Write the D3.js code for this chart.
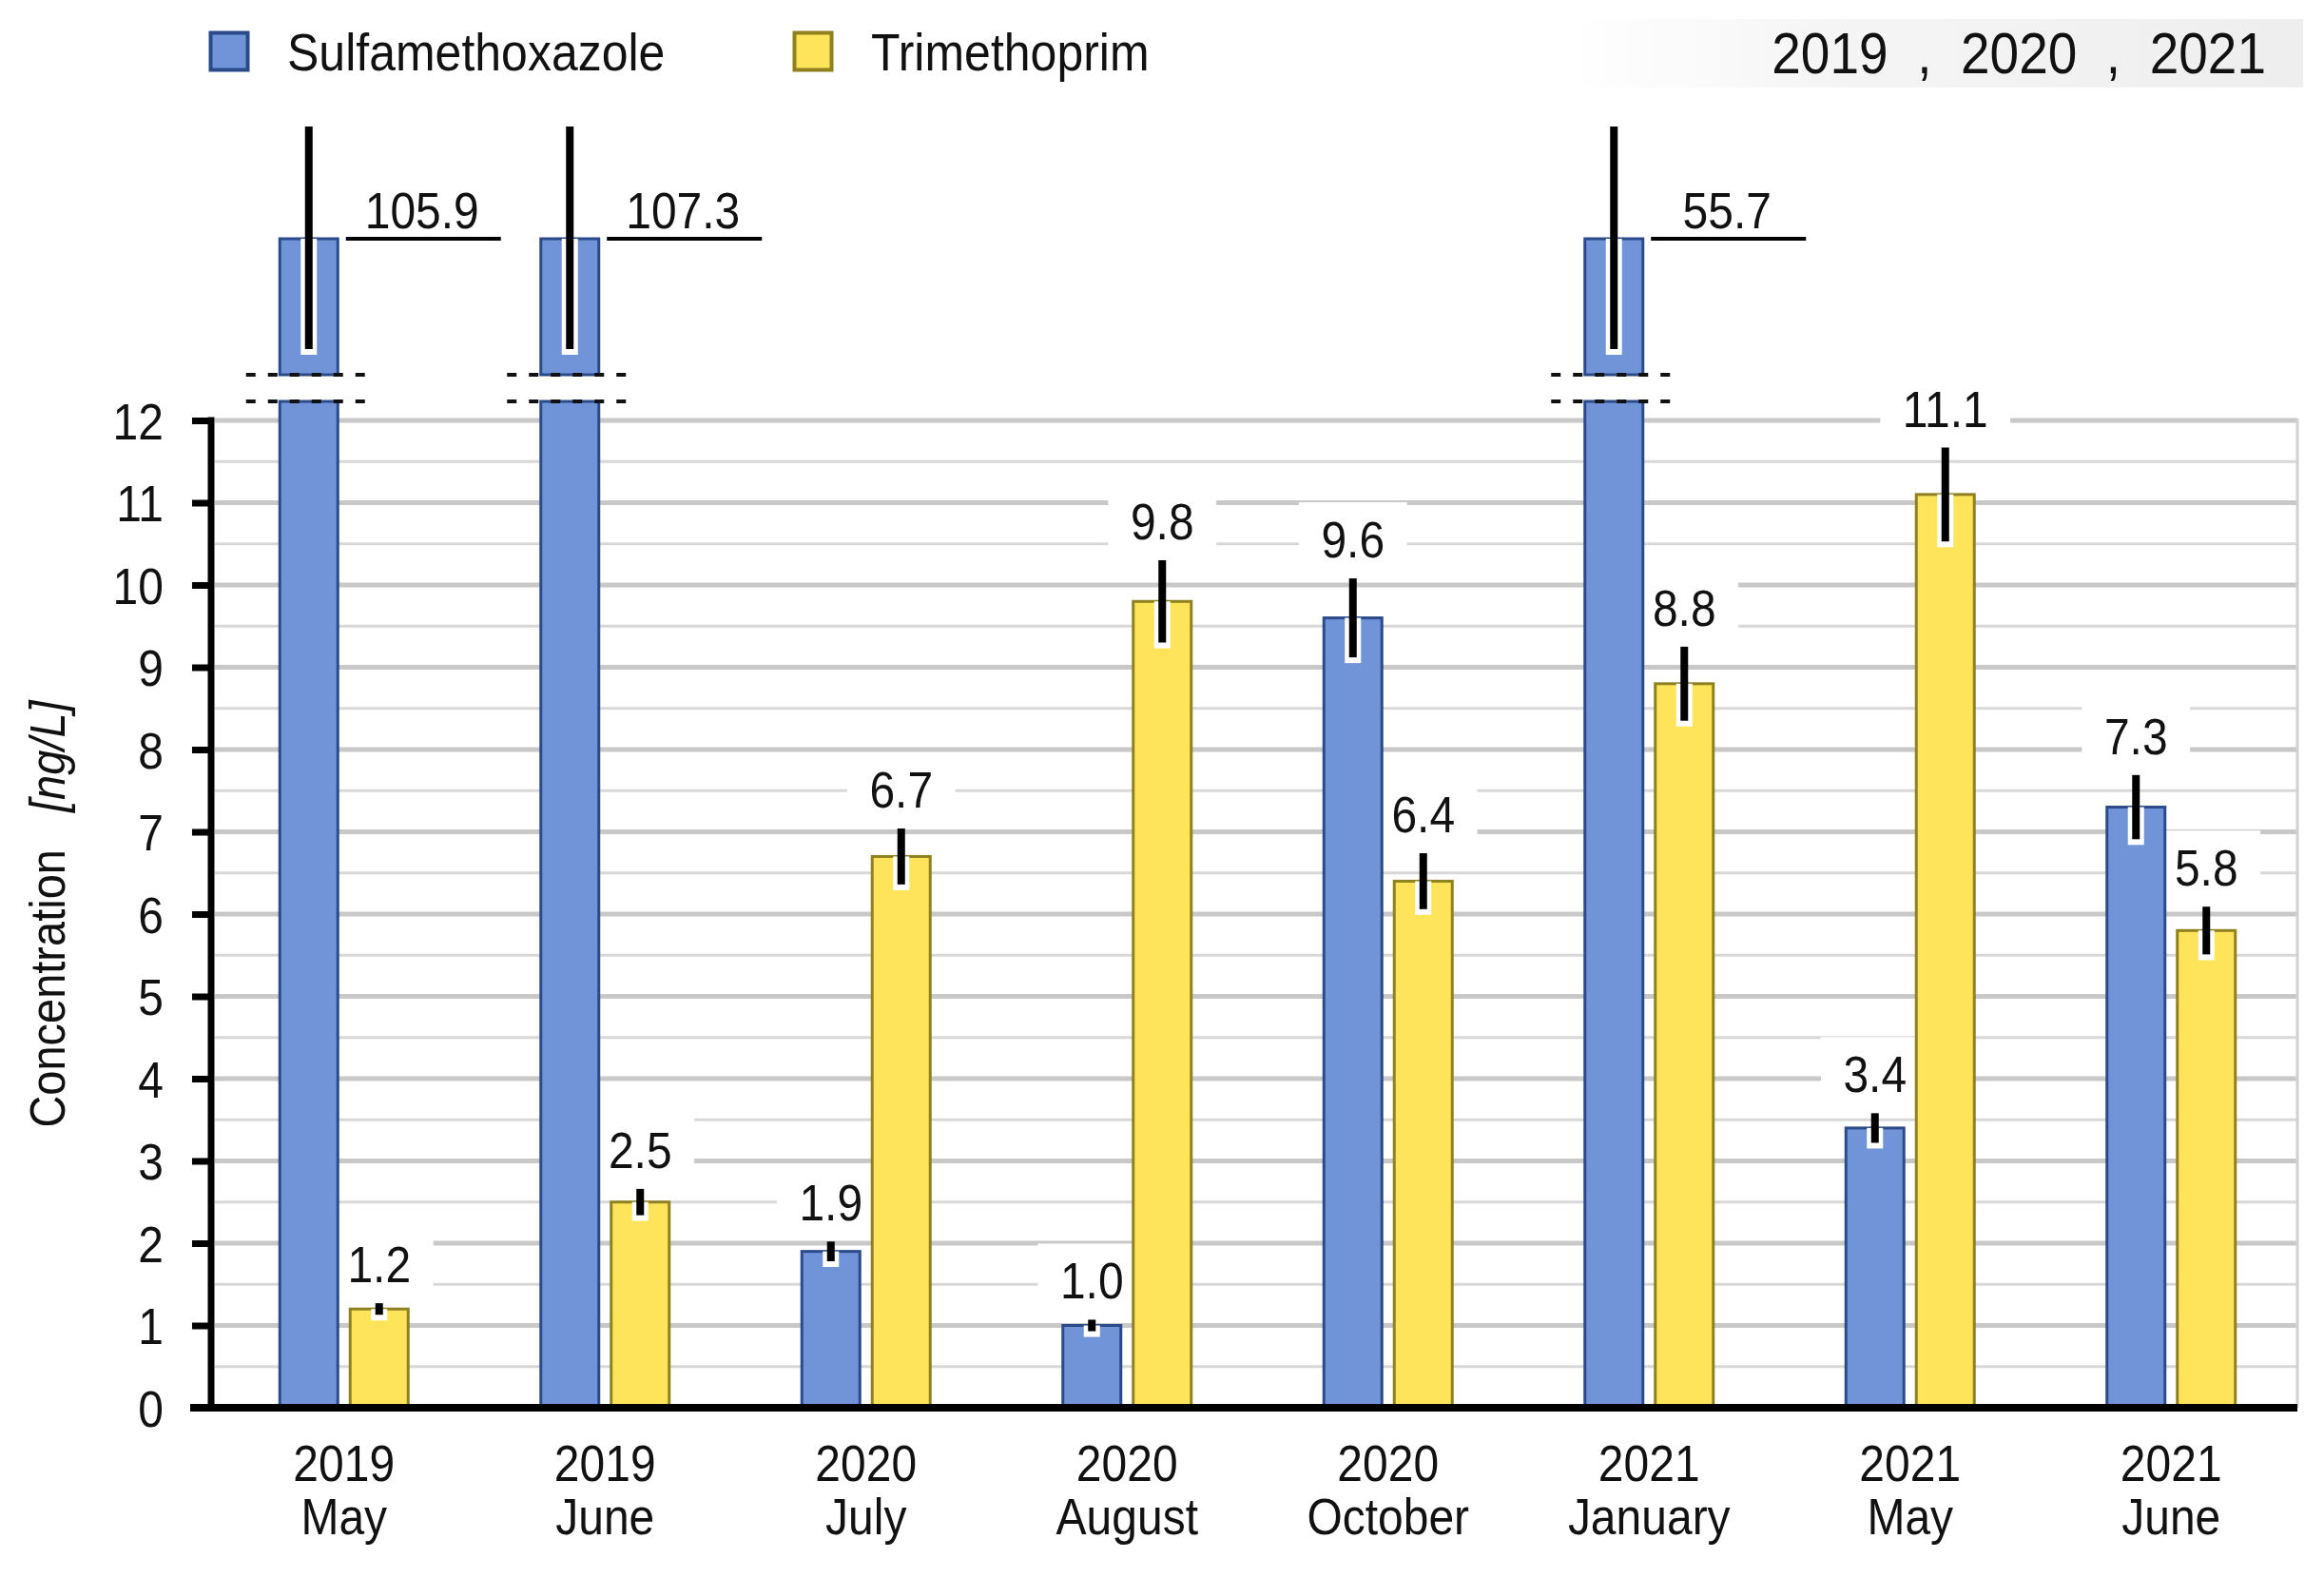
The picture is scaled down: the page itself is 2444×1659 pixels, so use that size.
<!DOCTYPE html>
<html>
<head>
<meta charset="utf-8">
<script src="https://cdn.jsdelivr.net/npm/d3@7"></script>
<style>
body { margin: 0; background: #fff; }
text { font-family: "Liberation Sans", Arial, sans-serif; fill: #111; }
</style>
</head>
<body>
<div id="chart-area"></div>
<script>
// data
const years = ["2019", "2019", "2020", "2020", "2020", "2021", "2021", "2021"]
const months = ["May", "June", "July", "August", "October", "January", "May", "June"]
const seriesNames = ["Sulfamethoxazole", "Trimethoprim"]
const sulfamethoxazole = [105.9, 107.3, 1.9, 1.0, 9.6, 55.7, 3.4, 7.3]
const sulfamethoxazoleErr = [null, null, 0.12, 0.07, 0.48, null, 0.18, 0.39]
const trimethoprim = [1.2, 2.5, 6.7, 9.8, 6.4, 8.8, 11.1, 5.8]
const trimethoprimErr = [0.07, 0.16, 0.34, 0.5, 0.34, 0.45, 0.57, 0.29]
const yTicks = [0, 1, 2, 3, 4, 5, 6, 7, 8, 9, 10, 11, 12]
const yearNote = "2019  ,  2020  ,  2021"

const WIDTH = 2444
const HEIGHT = 1659
const PLOT = { LEFT: 222, RIGHT: 2416, TOP: 442, BOTTOM: 1480 }
// broken part above 12
const BREAK = { gapBottom: 422, gapTop: 394, barTop: 251, whiskerTop: 133, whiskerBottom: 367 }
const COLORS = {
	fill: ["#7194d8", "#fde45a"],
	stroke: ["#2a4a8a", "#8f8020"]
}
const SY = 1.12 // the figure's lettering is a bit tall for its width

const keys = years.map((d, i) => d + " " + months[i])
const rows = []
keys.forEach((k, i) => {
	rows.push({ key: k, series: seriesNames[0], s: 0, value: sulfamethoxazole[i], err: sulfamethoxazoleErr[i] })
	rows.push({ key: k, series: seriesNames[1], s: 1, value: trimethoprim[i], err: trimethoprimErr[i] })
})

// put text at (x, y) and stretch it vertically
function placeText(sel, x, y, rot) {
	sel.attr("x", 0).attr("y", 0)
		.attr("transform", `translate(${x}, ${y})${rot ? " rotate(" + rot + ")" : ""} scale(1, ${SY})`)
	return sel
}

const svg = d3.select("#chart-area").append("svg")
	.attr("width", WIDTH)
	.attr("height", HEIGHT)

const defs = svg.append("defs")
const grad = defs.append("linearGradient").attr("id", "noteGrad")
grad.append("stop").attr("offset", "0%").attr("stop-color", "#ffffff")
grad.append("stop").attr("offset", "35%").attr("stop-color", "#f5f5f5")
grad.append("stop").attr("offset", "100%").attr("stop-color", "#eeeeee")

const x0 = d3.scaleBand()
	.domain(keys)
	.range([224.5, 2420.5])

const x1 = d3.scaleBand()
	.domain(seriesNames)
	.range([x0.bandwidth() / 2 - 69, x0.bandwidth() / 2 + 69])
	.paddingInner(10 / 74)

const y = d3.scaleLinear()
	.domain([0, 12])
	.range([PLOT.BOTTOM, PLOT.TOP])

const cx = d => x0(d.key) + x1(d.series) + x1.bandwidth() / 2
const fmt = d3.format(".1f")

// gridlines
svg.append("g").selectAll("line")
	.data(d3.range(0.5, 12, 1))
	.enter().append("line")
	.attr("x1", PLOT.LEFT + 4).attr("x2", PLOT.RIGHT)
	.attr("y1", d => y(d)).attr("y2", d => y(d))
	.attr("stroke", "#d8d8d8").attr("stroke-width", 3)

svg.append("g").selectAll("line")
	.data(yTicks.filter(d => d > 0))
	.enter().append("line")
	.attr("x1", PLOT.LEFT + 4).attr("x2", PLOT.RIGHT)
	.attr("y1", d => y(d)).attr("y2", d => y(d))
	.attr("stroke", "#c8c8c8").attr("stroke-width", 5)

svg.append("line")
	.attr("x1", PLOT.RIGHT).attr("x2", PLOT.RIGHT)
	.attr("y1", y(12) - 2).attr("y2", PLOT.BOTTOM)
	.attr("stroke", "#d2d2d2").attr("stroke-width", 3)

const boxLayer = svg.append("g")
const barLayer = svg.append("g")
const errLayer = svg.append("g")
const axisLayer = svg.append("g")
const labelLayer = svg.append("g")

const normal = rows.filter(d => d.value <= 12)
const broken = rows.filter(d => d.value > 12)

// bars
barLayer.selectAll("rect.normal")
	.data(normal)
	.enter().append("rect")
	.attr("class", "normal")
	.attr("x", d => x0(d.key) + x1(d.series) + 1.5)
	.attr("width", x1.bandwidth() - 3)
	.attr("y", d => y(d.value))
	.attr("height", d => y(0) - y(d.value))
	.attr("fill", d => COLORS.fill[d.s])
	.attr("stroke", d => COLORS.stroke[d.s])
	.attr("stroke-width", 3)

barLayer.selectAll("rect.lower")
	.data(broken)
	.enter().append("rect")
	.attr("class", "lower")
	.attr("x", d => x0(d.key) + x1(d.series) + 1.5)
	.attr("width", x1.bandwidth() - 3)
	.attr("y", BREAK.gapBottom)
	.attr("height", y(0) - BREAK.gapBottom)
	.attr("fill", d => COLORS.fill[d.s])
	.attr("stroke", d => COLORS.stroke[d.s])
	.attr("stroke-width", 3)

barLayer.selectAll("rect.upper")
	.data(broken)
	.enter().append("rect")
	.attr("class", "upper")
	.attr("x", d => x0(d.key) + x1(d.series) + 1.5)
	.attr("width", x1.bandwidth() - 3)
	.attr("y", BREAK.barTop)
	.attr("height", BREAK.gapTop - BREAK.barTop)
	.attr("fill", d => COLORS.fill[d.s])
	.attr("stroke", d => COLORS.stroke[d.s])
	.attr("stroke-width", 3)

// break marks
broken.forEach(d => {
	[BREAK.gapTop, BREAK.gapBottom].forEach(yy => {
		barLayer.append("line")
			.attr("x1", cx(d) - 66).attr("x2", cx(d) + 66)
			.attr("y1", yy).attr("y2", yy)
			.attr("stroke", "#111").attr("stroke-width", 4)
			.attr("stroke-dasharray", "10,13")
	})
})

// error bars
const errTop = d => d.value > 12 ? BREAK.whiskerTop : y(d.value + d.err)
const errBot = d => d.value > 12 ? BREAK.whiskerBottom : y(d.value - d.err)
const withErr = rows.filter(d => d.value > 12 || d.err != null)

errLayer.selectAll("line.halo")
	.data(withErr)
	.enter().append("line")
	.attr("class", "halo")
	.attr("x1", cx).attr("x2", cx)
	.attr("y1", d => Math.max(errTop(d), d.value > 12 ? BREAK.barTop : y(d.value)))
	.attr("y2", d => errBot(d) + 6)
	.attr("stroke", "#fff").attr("stroke-width", 17)

errLayer.selectAll("line.whisker")
	.data(withErr)
	.enter().append("line")
	.attr("class", "whisker")
	.attr("x1", cx).attr("x2", cx)
	.attr("y1", errTop)
	.attr("y2", errBot)
	.attr("stroke", "#000").attr("stroke-width", 8)

// y axis
const yAxisCall = d3.axisLeft(y)
	.tickValues(yTicks)
	.tickSize(20)
	.tickPadding(30)
	.tickFormat(d3.format("d"))

const yAxisGroup = axisLayer.append("g")
	.attr("transform", `translate(${PLOT.LEFT}, 0)`)
	.call(yAxisCall)
yAxisGroup.select(".domain").remove()
yAxisGroup.attr("font-size", 48).attr("font-family", "Liberation Sans, Arial, sans-serif")
yAxisGroup.selectAll("line").attr("stroke", "#000").attr("stroke-width", 7)
yAxisGroup.selectAll("text")
	.attr("fill", "#111")
	.attr("dy", "0.36em")
	.attr("transform", `scale(1, ${SY})`)

axisLayer.append("line")
	.attr("x1", PLOT.LEFT).attr("x2", PLOT.LEFT)
	.attr("y1", y(12) - 3.5).attr("y2", PLOT.BOTTOM)
	.attr("stroke", "#000").attr("stroke-width", 7)

axisLayer.append("line")
	.attr("x1", PLOT.LEFT - 22).attr("x2", PLOT.RIGHT)
	.attr("y1", PLOT.BOTTOM).attr("y2", PLOT.BOTTOM)
	.attr("stroke", "#000").attr("stroke-width", 8)

// x axis, two-line labels
const xAxisCall = d3.axisBottom(x0).tickSize(0).tickFormat("")
const xAxisGroup = axisLayer.append("g")
	.attr("transform", `translate(0, ${PLOT.BOTTOM})`)
	.call(xAxisCall)
xAxisGroup.select(".domain").remove()
xAxisGroup.attr("font-size", 48).attr("font-family", "Liberation Sans, Arial, sans-serif")
xAxisGroup.selectAll(".tick text")
	.attr("dy", null).attr("y", null)
	.attr("fill", "#111")
	.attr("transform", `scale(1, ${SY})`)
	.each(function (d, i) {
		const t = d3.select(this)
		t.append("tspan").attr("x", 0).attr("y", 77 / SY).text(years[i])
		t.append("tspan").attr("x", 0).attr("y", 133 / SY).text(months[i])
	})

// value labels with white backing
normal.concat(broken).forEach(d => {
	const isBroken = d.value > 12
	const tx = isBroken ? cx(d) + 119 : cx(d)
	const ty = isBroken ? 240 : errTop(d) - 22
	const t = labelLayer.append("text")
		.attr("text-anchor", "middle")
		.attr("font-size", 48)
		.text(fmt(d.value))
	placeText(t, tx, ty)
	if (isBroken) {
		labelLayer.append("line")
			.attr("x1", cx(d) + 39).attr("x2", cx(d) + 202)
			.attr("y1", BREAK.barTop).attr("y2", BREAK.barTop)
			.attr("stroke", "#000").attr("stroke-width", 4)
	} else {
		const w = t.node().getComputedTextLength() + 47
		boxLayer.append("rect")
			.attr("x", tx - w / 2).attr("width", w)
			.attr("y", ty - 58).attr("height", 70)
			.attr("fill", "#fff")
	}
})

// legend
const legendX = [220, 834]
seriesNames.forEach((name, i) => {
	svg.append("rect")
		.attr("x", legendX[i] + 1.5).attr("y", 34.5)
		.attr("width", 39).attr("height", 39)
		.attr("fill", COLORS.fill[i])
		.attr("stroke", COLORS.stroke[i])
		.attr("stroke-width", 4)
	placeText(svg.append("text")
		.attr("font-size", 50)
		.text(name), legendX[i] + 82, 74)
})

// year note, top right
svg.append("rect")
	.attr("x", 1652).attr("y", 20)
	.attr("width", 770).attr("height", 72)
	.attr("fill", "url(#noteGrad)")
placeText(svg.append("text")
	.attr("text-anchor", "end")
	.attr("font-size", 55)
	.style("white-space", "pre")
	.text(yearNote), 2383, 77)

// y label
const yLabel = svg.append("text")
	.attr("text-anchor", "middle")
	.attr("font-size", 47)
	.style("white-space", "pre")
yLabel.append("tspan").text("Concentration   ")
yLabel.append("tspan").attr("font-style", "italic").text("[ng/L]")
placeText(yLabel, 68, (PLOT.TOP + PLOT.BOTTOM) / 2, -90)
</script>
</body>
</html>
